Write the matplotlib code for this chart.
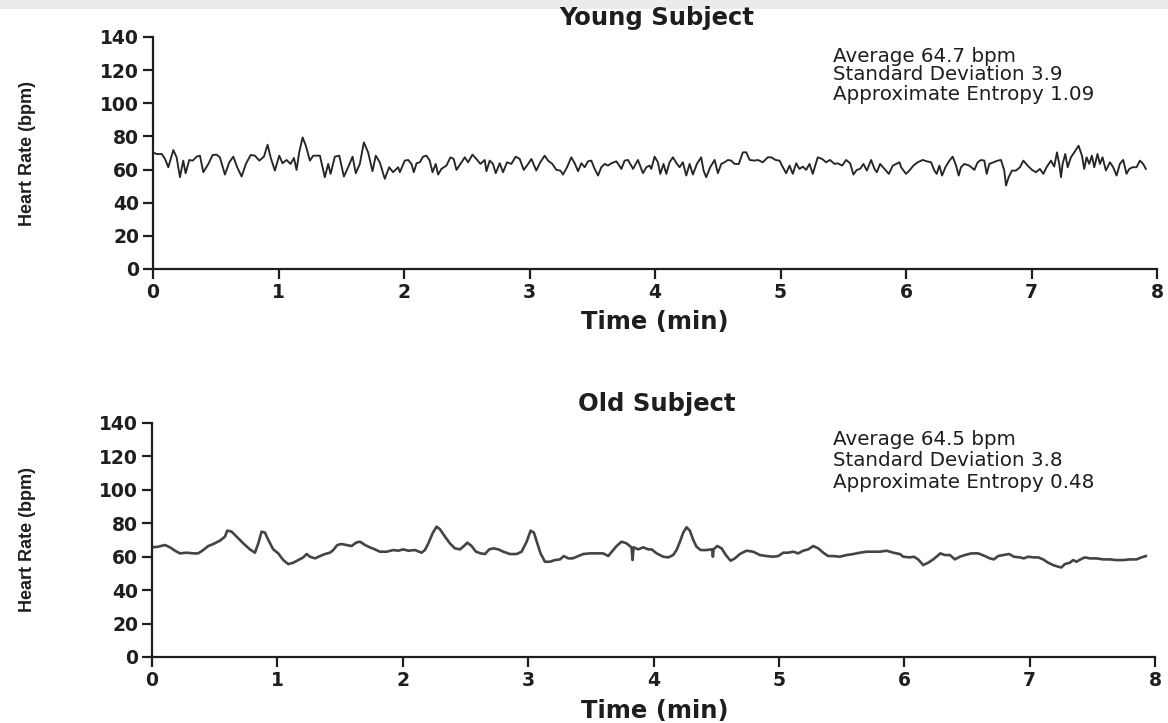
import matplotlib
matplotlib.use("Agg")
import matplotlib.pyplot as plt
from matplotlib.patches import Rectangle

W, H = 1168, 723

# young subject: time (min) / heart rate (bpm)
young_t = [
    0.0, 0.029, 0.069, 0.096, 0.122, 0.162, 0.188, 0.215, 0.241, 0.260,
    0.289, 0.316, 0.348, 0.374, 0.401, 0.441, 0.475, 0.507, 0.533, 0.573,
    0.608, 0.640, 0.671, 0.706, 0.740, 0.778, 0.812, 0.847, 0.884, 0.913,
    0.937, 0.971, 1.006, 1.032, 1.064, 1.096, 1.123, 1.144, 1.165, 1.192,
    1.218, 1.250, 1.277, 1.330, 1.369, 1.396, 1.415, 1.449, 1.484, 1.521,
    1.555, 1.590, 1.616, 1.648, 1.680, 1.714, 1.749, 1.775, 1.807, 1.847,
    1.882, 1.913, 1.953,
    1.967, 2.006, 2.033, 2.060, 2.078, 2.100, 2.126, 2.152, 2.179, 2.205,
    2.227, 2.253, 2.272, 2.298, 2.338, 2.370, 2.396, 2.418, 2.450, 2.484,
    2.511, 2.545, 2.577, 2.609, 2.643, 2.657, 2.683, 2.709, 2.731, 2.763,
    2.789, 2.821, 2.855, 2.890, 2.922, 2.954, 2.980, 3.015, 3.054, 3.086,
    3.121, 3.148, 3.182, 3.214, 3.246, 3.267, 3.299, 3.333, 3.360, 3.387,
    3.413, 3.440, 3.466, 3.493, 3.519, 3.546, 3.572, 3.599, 3.626, 3.652,
    3.692, 3.732, 3.758, 3.785, 3.825, 3.864, 3.904, 3.931, 3.957,
    3.970, 3.997, 4.023, 4.042, 4.068, 4.090, 4.116, 4.143, 4.175, 4.196,
    4.222, 4.249, 4.276, 4.302, 4.334, 4.368, 4.387, 4.408, 4.440, 4.475,
    4.501, 4.528, 4.554, 4.581, 4.607, 4.634, 4.668, 4.700, 4.727, 4.754,
    4.793, 4.820, 4.859, 4.899, 4.926, 4.960, 4.992, 5.019, 5.045, 5.072,
    5.098, 5.125, 5.151, 5.178, 5.204, 5.231, 5.257, 5.297, 5.332, 5.363,
    5.395, 5.430, 5.456, 5.491, 5.523, 5.555, 5.581, 5.608, 5.634, 5.661,
    5.688, 5.722, 5.749, 5.767, 5.794, 5.828, 5.863, 5.895, 5.921, 5.948,
    5.961, 6.000, 6.027, 6.059, 6.093, 6.133, 6.165, 6.200, 6.226, 6.245,
    6.266, 6.287, 6.314, 6.346, 6.372, 6.399, 6.420, 6.438, 6.465, 6.505,
    6.545, 6.571, 6.598, 6.624, 6.643, 6.664, 6.696, 6.730, 6.757, 6.783,
    6.797, 6.818, 6.844, 6.876, 6.908, 6.935, 6.969, 7.004, 7.036, 7.067,
    7.094, 7.120, 7.155, 7.181, 7.203, 7.221, 7.235, 7.248, 7.269, 7.288,
    7.314, 7.341, 7.375, 7.402, 7.420, 7.439, 7.460, 7.481, 7.500, 7.526,
    7.545, 7.566, 7.593, 7.625, 7.651, 7.678, 7.704, 7.731, 7.757, 7.779,
    7.805, 7.837, 7.864, 7.890, 7.911,
]
young_hr = [
    70.4, 69.4, 69.4, 66.4, 61.4, 71.8, 67.4, 55.4, 65.4, 57.8,
    65.8, 65.4, 67.8, 68.4, 58.4, 63.4, 68.8, 69.0, 67.4, 57.0,
    64.4, 67.8, 61.4, 55.8, 63.4, 68.8, 68.4, 65.4, 67.8, 75.0,
    67.4, 59.4, 68.4, 63.8, 65.8, 63.4, 67.0, 59.8, 70.4, 79.4,
    74.4, 65.4, 68.4, 68.4, 55.4, 63.4, 57.4, 67.8, 68.4, 55.8,
    61.4, 67.8, 57.8, 63.4, 76.4, 70.4, 59.0, 68.4, 64.4, 54.4,
    61.4, 58.4, 61.4,
    58.4, 65.4, 65.8, 63.4, 58.4, 63.8, 64.4, 67.8, 68.4, 65.4,
    58.4, 63.4, 57.0, 60.4, 62.4, 67.4, 66.4, 59.8, 63.4, 67.4,
    64.4, 69.0, 66.4, 63.4, 65.8, 59.0, 65.4, 63.4, 57.8, 63.8,
    58.4, 64.4, 63.4, 67.8, 66.4, 59.8, 62.4, 66.4, 59.4, 64.4,
    68.4, 65.4, 63.4, 59.8, 59.4, 57.0, 61.4, 67.4, 63.8, 59.0,
    63.8, 61.4, 65.0, 65.4, 60.4, 56.4, 61.4, 63.4, 62.4, 63.8,
    65.0, 60.4, 65.4, 65.8, 60.4, 65.8, 57.8, 61.4, 62.4,
    60.4, 67.8, 64.4, 57.4, 63.4, 57.4, 64.4, 67.4, 63.4, 61.4,
    64.4, 56.4, 63.4, 57.0, 63.4, 67.4, 59.4, 55.4, 61.4, 65.8,
    57.8, 63.4, 64.4, 65.8, 65.4, 63.4, 63.4, 70.4, 70.4, 65.8,
    65.4, 65.8, 64.4, 67.4, 67.4, 65.8, 65.4, 61.4, 57.8, 62.4,
    57.4, 63.8, 60.4, 61.8, 59.8, 63.4, 57.4, 67.4, 66.4, 64.4,
    65.8, 63.4, 63.8, 62.4, 65.8, 63.8, 57.0, 59.8, 60.4, 63.4,
    59.4, 65.8, 60.4, 58.4, 63.4, 60.4, 57.4, 62.4, 63.4, 64.4,
    61.4, 57.4, 59.4, 62.4, 64.4, 65.8, 65.0, 64.4, 59.4, 57.4,
    62.4, 56.4, 61.4, 65.4, 67.8, 62.4, 56.4, 61.4, 63.4, 62.4,
    59.8, 64.4, 65.8, 65.4, 57.4, 63.4, 64.4, 65.4, 65.8, 59.4,
    50.4, 55.4, 59.4, 59.4, 61.4, 65.4, 62.4, 59.8, 58.4, 60.4,
    57.4, 61.4, 65.4, 61.8, 70.4, 63.4, 55.4, 63.4, 69.4, 61.4,
    67.4, 70.4, 74.4, 68.4, 60.4, 67.4, 63.4, 68.4, 61.4, 69.4,
    63.4, 67.4, 59.4, 64.4, 61.4, 56.4, 63.4, 65.8, 57.4, 60.4,
    61.4, 61.4, 65.4, 63.4, 60.4,
]

# old subject
old_t = [
    0.0, 0.050, 0.104, 0.144, 0.183, 0.223, 0.276, 0.330, 0.369, 0.409,
    0.449, 0.489, 0.542, 0.582, 0.600, 0.635, 0.675, 0.728, 0.781, 0.821,
    0.848, 0.874, 0.901, 0.928, 0.967, 1.007, 1.047, 1.087, 1.127, 1.167,
    1.207, 1.233, 1.260, 1.300, 1.340, 1.380, 1.419, 1.446, 1.478, 1.512,
    1.552, 1.592, 1.627, 1.659, 1.699, 1.738, 1.778, 1.818, 1.872, 1.925,
    1.965,
    2.004, 2.044, 2.097, 2.150, 2.177, 2.204, 2.238, 2.270, 2.297, 2.337,
    2.376, 2.416, 2.456, 2.488, 2.515, 2.549, 2.584, 2.621, 2.656, 2.690,
    2.722, 2.762, 2.802, 2.855, 2.908, 2.948, 2.988, 3.020, 3.046, 3.073,
    3.099, 3.134, 3.174, 3.214, 3.254, 3.285, 3.320, 3.355, 3.400, 3.440,
    3.493, 3.546, 3.599, 3.639, 3.674, 3.706, 3.745, 3.785, 3.817, 3.825,
    3.833, 3.841, 3.878, 3.918, 3.958,
    3.985, 4.025, 4.078, 4.118, 4.157, 4.184, 4.211, 4.237, 4.264, 4.290,
    4.317, 4.343, 4.375, 4.423, 4.468, 4.474, 4.479, 4.508, 4.543, 4.577,
    4.615, 4.649, 4.689, 4.742, 4.795, 4.849, 4.902, 4.955, 4.995, 5.035,
    5.074, 5.114, 5.154, 5.194, 5.234, 5.274, 5.314, 5.354, 5.393, 5.433,
    5.486, 5.540, 5.593, 5.646, 5.699, 5.752, 5.805, 5.859, 5.912, 5.965,
    5.992, 6.045, 6.077, 6.111, 6.151, 6.191, 6.231, 6.257, 6.289, 6.324,
    6.364, 6.404, 6.443, 6.483, 6.536, 6.590, 6.643, 6.683, 6.715, 6.749,
    6.789, 6.837, 6.874, 6.922, 6.954, 6.988, 7.028, 7.068, 7.108, 7.148,
    7.188, 7.228, 7.254, 7.281, 7.321, 7.347, 7.374, 7.406, 7.440, 7.480,
    7.533, 7.586, 7.640, 7.693, 7.746, 7.799, 7.852, 7.892, 7.927,
]
old_hr = [
    65.6, 66.0, 67.0, 65.6, 63.6, 62.0, 62.4, 62.0, 62.0, 64.0,
    66.4, 67.6, 69.6, 72.0, 75.6, 75.0, 72.0, 68.0, 64.4, 62.4,
    68.0, 75.0, 74.4, 70.0, 64.4, 62.0, 58.0, 55.6, 56.4, 58.0,
    59.6, 61.6, 60.0, 59.0, 60.4, 61.6, 62.4, 64.0, 67.0, 67.6,
    67.0, 66.4, 68.4, 69.0, 67.0, 65.6, 64.4, 63.0, 63.0, 64.0,
    63.6,
    64.4, 63.6, 64.0, 62.4, 64.0, 68.0, 74.0, 78.0, 76.4, 72.0,
    68.0, 65.0, 64.4, 66.4, 68.4, 66.4, 63.0, 62.0, 61.6, 64.4,
    65.0, 64.4, 63.0, 61.6, 61.6, 63.0, 69.0, 75.6, 74.4, 68.0,
    62.0, 57.0, 57.0, 58.0, 58.4, 60.4, 59.0, 59.0, 60.4, 61.6,
    62.0, 62.0, 62.0, 60.4, 63.6, 66.4, 69.0, 68.0, 66.0, 65.6,
    58.0, 65.6, 64.4, 65.6, 64.4,
    64.4, 62.0, 60.0, 59.6, 61.0, 64.0, 69.0, 74.4, 77.6, 75.6,
    70.0, 66.0, 64.0, 64.0, 64.4, 60.0, 64.4, 66.4, 65.0, 61.0,
    57.6, 59.0, 61.6, 63.6, 63.0, 61.0, 60.4, 60.0, 60.4, 62.4,
    62.4, 63.0, 62.0, 63.6, 64.4, 66.4, 65.0, 62.4, 60.4, 60.4,
    60.0, 61.0, 61.6, 62.4, 63.0, 63.0, 63.0, 63.6, 62.4, 61.6,
    60.0, 59.6, 60.0, 58.4, 55.0, 56.4, 58.4, 60.0, 62.0, 61.0,
    61.0, 58.4, 60.0, 61.0, 62.0, 62.0, 60.4, 59.0, 58.4, 60.4,
    61.0, 61.6, 60.0, 59.6, 59.0, 60.0, 59.6, 59.6, 58.4, 56.4,
    55.0, 54.0, 53.6, 55.6, 56.4, 58.0, 57.0, 58.4, 59.6, 59.0,
    59.0, 58.4, 58.4, 58.0, 58.0, 58.4, 58.4, 59.6, 60.4,
]

titles = ["Young Subject", "Old Subject"]
stats = [
    ["Average 64.7 bpm", "Standard Deviation 3.9", "Approximate Entropy 1.09"],
    ["Average 64.5 bpm", "Standard Deviation 3.8", "Approximate Entropy 0.48"],
]
yticks = [0, 20, 40, 60, 80, 100, 120, 140]
xticks = [0, 1, 2, 3, 4, 5, 6, 7, 8]

INK = "#1e1e1e"


def px(x0, y0, x1, y1):
    # pixel box -> figure fraction rect
    return [x0 / W, 1 - y1 / H, (x1 - x0) / W, (y1 - y0) / H]


fig = plt.figure(figsize=(W / 100, H / 100), dpi=100)
fig.patches.append(Rectangle((0, 1 - 9 / H), 1, 9 / H, transform=fig.transFigure,
                             color="#ebebeb", lw=0, zorder=-1))

panels = [
    (px(153, 37, 1157, 269), young_t, young_hr, 1.35, "#262626"),
    (px(152, 423, 1155, 657), old_t, old_hr, 1.9, "#444444"),
]
title_y = [18, 404]
xlab_y = [322, 711]
stat_y = [[56, 75, 95], [440, 461, 482]]

for i, (rect, t, hr, lw, col) in enumerate(panels):
    ax = fig.add_axes(rect)
    ax.plot(t, hr, color=col, lw=lw, solid_joinstyle="round")
    ax.set_xlim(0, 8)
    ax.set_ylim(0, 140)
    ax.set_xticks(xticks)
    ax.set_yticks(yticks)
    ax.set_xticklabels([str(v) for v in xticks])
    ax.set_yticklabels([str(v) for v in yticks])
    for s in ("top", "right"):
        ax.spines[s].set_visible(False)
    for s in ("left", "bottom"):
        ax.spines[s].set_linewidth(1.6)
        ax.spines[s].set_color(INK)
    ax.tick_params(direction="out", length=7, width=1.6, color=INK,
                   labelsize=13.5, pad=3)
    for lab in ax.get_xticklabels() + ax.get_yticklabels():
        lab.set_fontweight("bold")
        lab.set_color(INK)
    ax.patch.set_alpha(0)

    fig.text(657 / W, 1 - title_y[i] / H, titles[i], ha="center", va="center",
             fontsize=17.5, fontweight="bold", color=INK)
    fig.text(655 / W, 1 - xlab_y[i] / H, "Time (min)", ha="center", va="center",
             fontsize=17.5, fontweight="bold", color=INK)
    ymid = (rect[1] + rect[3] / 2)
    fig.text(27 / W, ymid, "Heart Rate (bpm)", rotation=90, ha="center",
             va="center", fontsize=13, family="Liberation Sans",
             fontweight="bold", color=INK)
    for line, yy in zip(stats[i], stat_y[i]):
        fig.text(833 / W, 1 - yy / H, line, ha="left", va="center",
                 fontsize=14.3, color=INK)

fig.savefig("out.png", dpi=100)
